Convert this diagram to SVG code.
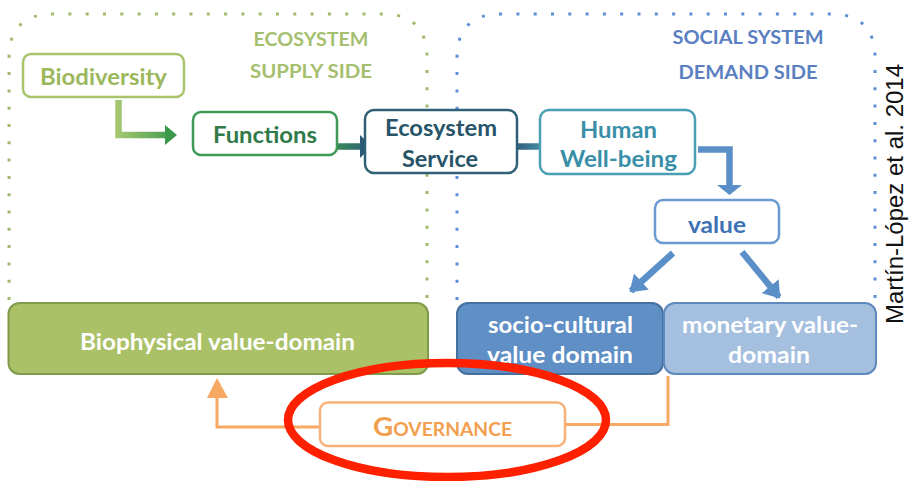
<svg xmlns="http://www.w3.org/2000/svg" width="910" height="481" viewBox="0 0 910 481">
<defs>
<style>
text{font-family:"Lato","Open Sans","Liberation Sans",sans-serif;font-weight:700;text-anchor:middle}
.dotg{fill:none;stroke:#9fba6a;stroke-width:3;stroke-dasharray:3 14.3}
.dotb{fill:none;stroke:#5b8fd6;stroke-width:3;stroke-dasharray:3 14.3}
.node{fill:#fff;stroke-width:2.5}
.lbl{font-size:22px}
.hdr{font-size:19px}
.arr{fill:none;stroke-width:6.5}
.blue{stroke:#5b8fc8}
.orange{fill:none;stroke:#f7a862;stroke-width:3}
</style>
<linearGradient id="g1" gradientUnits="userSpaceOnUse" x1="115" y1="0" x2="177" y2="0"><stop offset="0" stop-color="#a7c971"/><stop offset="1" stop-color="#3b984c"/></linearGradient>
<linearGradient id="g2" gradientUnits="userSpaceOnUse" x1="325" y1="0" x2="372" y2="0"><stop offset="0" stop-color="#3a9a50"/><stop offset="1" stop-color="#2a5a75"/></linearGradient>
<linearGradient id="g3" gradientUnits="userSpaceOnUse" x1="507" y1="0" x2="553" y2="0"><stop offset="0" stop-color="#2d5070"/><stop offset="1" stop-color="#4a9fb5"/></linearGradient>
<marker id="mb" markerUnits="userSpaceOnUse" markerWidth="16" markerHeight="22" refX="14" refY="11" orient="auto" viewBox="0 0 16 22"><path d="M0 0 L16 11 L0 22 Z" fill="#5b8fc8"/></marker>
</defs>

<g id="ecosystem-region">
<path class="dotg" d="M9 300 V58 Q9 14 53 14 H383 Q427 14 427 58 V300"/>
<text class="hdr" x="311" y="46" fill="#a5bf6e" textLength="115" lengthAdjust="spacingAndGlyphs">ECOSYSTEM</text>
<text class="hdr" x="311" y="78" fill="#a5bf6e" textLength="122" lengthAdjust="spacingAndGlyphs">SUPPLY SIDE</text>
</g>
<g id="social-region">
<path class="dotb" d="M457 300 V58 Q457 14 501 14 H831 Q875 14 875 58 V300"/>
<text class="hdr" x="748" y="44" fill="#5a80c2" textLength="151" lengthAdjust="spacingAndGlyphs">SOCIAL SYSTEM</text>
<text class="hdr" x="748" y="79" fill="#5a80c2" textLength="139" lengthAdjust="spacingAndGlyphs">DEMAND SIDE</text>
</g>

<g id="connectors">
<path class="arr" stroke="url(#g1)" d="M118.5 100 V135 H166"/>
<polygon points="165,125 177,135 165,145" fill="#3b984c"/>
<path class="arr" stroke="url(#g2)" d="M325 146.5 H361"/>
<polygon points="360,135 372,146.5 360,158" fill="#2a5a75"/>
<path class="arr" stroke="url(#g3)" d="M507 146.5 H544"/>
<polygon points="543,135 553,146.5 543,158" fill="#4a9fb5"/>
<path class="arr blue" d="M698 149.5 H729.5 V186"/>
<polygon points="717,185 742,185 729.5,195" fill="#5b8fc8"/>
<path class="arr blue" d="M673 253 L631 291" marker-end="url(#mb)"/>
<path class="arr blue" d="M742 252 L779 297" marker-end="url(#mb)"/>
<path class="orange" d="M668 376 V424.5 H565"/>
<path class="orange" d="M320 427 H217 V397"/>
<polygon points="207,398 217,378 228,398" fill="#f7a862"/>
</g>

<g id="biodiversity">
<rect class="node" x="23" y="54" width="161" height="43" rx="8" stroke="#a9c46c"/>
<text class="lbl" x="103.5" y="85" fill="#9cb85c" textLength="127" lengthAdjust="spacingAndGlyphs">Biodiversity</text>
</g>
<g id="functions">
<rect class="node" x="193" y="112" width="144" height="43" rx="8" stroke="#3f9a56"/>
<text class="lbl" x="265" y="143" fill="#2f7a48" textLength="104" lengthAdjust="spacingAndGlyphs">Functions</text>
</g>
<g id="ecosystem-service">
<rect class="node" x="365" y="110" width="152" height="63" rx="9" stroke="#2f6075"/>
<text class="lbl" x="441" y="136" fill="#275468" textLength="112" lengthAdjust="spacingAndGlyphs">Ecosystem</text>
<text class="lbl" x="440" y="167" fill="#275468" textLength="76" lengthAdjust="spacingAndGlyphs">Service</text>
</g>
<g id="human-well-being">
<rect class="node" x="540" y="110" width="155" height="64" rx="9" stroke="#4a9fb5"/>
<text class="lbl" x="618.5" y="138" fill="#3a8fa8" textLength="77" lengthAdjust="spacingAndGlyphs">Human</text>
<text class="lbl" x="618.5" y="167" fill="#3a8fa8" textLength="117" lengthAdjust="spacingAndGlyphs">Well-being</text>
</g>
<g id="value">
<rect class="node" x="655" y="200" width="124" height="43" rx="8" stroke="#6a9ad0"/>
<text class="lbl" x="717" y="233" fill="#3d72b5" textLength="58" lengthAdjust="spacingAndGlyphs">value</text>
</g>
<g id="biophysical">
<rect x="8.5" y="303" width="419.5" height="71" rx="11" fill="#abc168" stroke="#7f9a4a" stroke-width="2"/>
<text class="lbl" x="217.5" y="350" fill="#fff" textLength="275" lengthAdjust="spacingAndGlyphs">Biophysical value-domain</text>
</g>
<g id="socio-cultural">
<rect x="457" y="303" width="206" height="71" rx="11" fill="#5f8fc5" stroke="#46709f" stroke-width="2"/>
<text class="lbl" x="560.5" y="333" fill="#fff" textLength="145" lengthAdjust="spacingAndGlyphs">socio-cultural</text>
<text class="lbl" x="560" y="363" fill="#fff" textLength="146" lengthAdjust="spacingAndGlyphs">value domain</text>
</g>
<g id="monetary">
<rect x="664" y="303" width="212" height="71" rx="11" fill="#a5bfdf" stroke="#5f88bd" stroke-width="2"/>
<text class="lbl" x="770" y="333" fill="#fff" textLength="176" lengthAdjust="spacingAndGlyphs">monetary value-</text>
<text class="lbl" x="769" y="363" fill="#fff" textLength="82" lengthAdjust="spacingAndGlyphs">domain</text>
</g>
<g id="governance">
<rect class="node" x="320" y="402.5" width="245" height="43.5" rx="8" stroke="#f6b27a" stroke-width="2"/>
<text x="442.5" y="436" fill="#f2a050" textLength="139" lengthAdjust="spacingAndGlyphs"><tspan font-size="26px">G</tspan><tspan font-size="18px">OVERNANCE</tspan></text>
</g>
<g id="highlight">
<ellipse cx="447" cy="420" rx="159" ry="57" fill="none" stroke="#ff2000" stroke-width="8.5"/>
</g>
<g id="citation">
<text x="0" y="0" transform="translate(903 194) rotate(-90)" style="font-family:'Liberation Sans',Arial,sans-serif;font-weight:400;font-size:23px" fill="#111" textLength="260" lengthAdjust="spacingAndGlyphs">Martín-López et al. 2014</text>
</g>
</svg>
